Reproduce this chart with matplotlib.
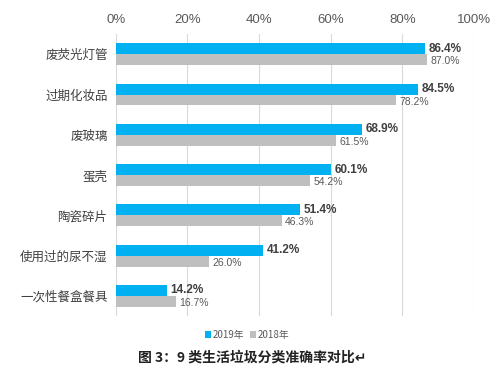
import numpy as np
import matplotlib.pyplot as plt

plt.rcParams['font.family'] = ['Noto Sans CJK SC', 'DejaVu Sans']

categories = ['废荧光灯管', '过期化妆品', '废玻璃', '蛋壳', '陶瓷碎片', '使用过的尿不湿', '一次性餐盒餐具']
y2019 = [86.4, 84.5, 68.9, 60.1, 51.4, 41.2, 14.2]
y2018 = [87.0, 78.2, 61.5, 54.2, 46.3, 26.0, 16.7]

blue = '#00B0F0'
gray = '#BFBFBF'
num_font = ['Liberation Sans', 'DejaVu Sans']

fig = plt.figure(figsize=(5.04, 3.84), dpi=100)
ax = fig.add_axes([0.230, 0.177, 0.710, 0.734])

y = np.arange(len(categories))
h = 0.27
ax.barh(y - h / 2, y2019, height=h, color=blue, label='2019年', zorder=2)
ax.barh(y + h / 2, y2018, height=h, color=gray, label='2018年', zorder=2)

for yi, a, b in zip(y, y2019, y2018):
    ax.text(a + 1, yi - h / 2, f'{a:.1f}%', va='center', ha='left', family=num_font,
            fontsize=8.5, fontweight='bold', color='#404040')
    ax.text(b + 1, yi + h / 2 + 0.04, f'{b:.1f}%', va='center', ha='left', family=num_font,
            fontsize=7.5, color='#595959')

ax.set_xlim(0, 100)
ax.set_ylim(len(categories) - 0.5, -0.5)
ax.xaxis.tick_top()
ax.set_xticks(np.arange(0, 101, 20))
ax.set_xticklabels([f'{v}%' for v in range(0, 101, 20)], fontsize=9.5,
                   color='#595959', family=num_font)
ax.set_yticks(y)
ax.set_yticklabels(categories, fontsize=9, color='#404040')
ax.tick_params(length=0, pad=6)
ax.grid(axis='x', color='#D9D9D9', linewidth=0.8, zorder=0)
for s in ax.spines.values():
    s.set_visible(False)

fig.legend(loc='center', bbox_to_anchor=(0.49, 0.128), ncol=2, frameon=False,
           fontsize=7, handlelength=0.6, handleheight=0.6, handletextpad=0.2,
           columnspacing=0.6, labelcolor='#595959')

fig.text(0.5, 0.07, '图 3：9 类生活垃圾分类准确率对比↵', ha='center', va='center',
         fontsize=10, fontweight='bold', color='#222222')

fig.savefig('out.png', dpi=100)
